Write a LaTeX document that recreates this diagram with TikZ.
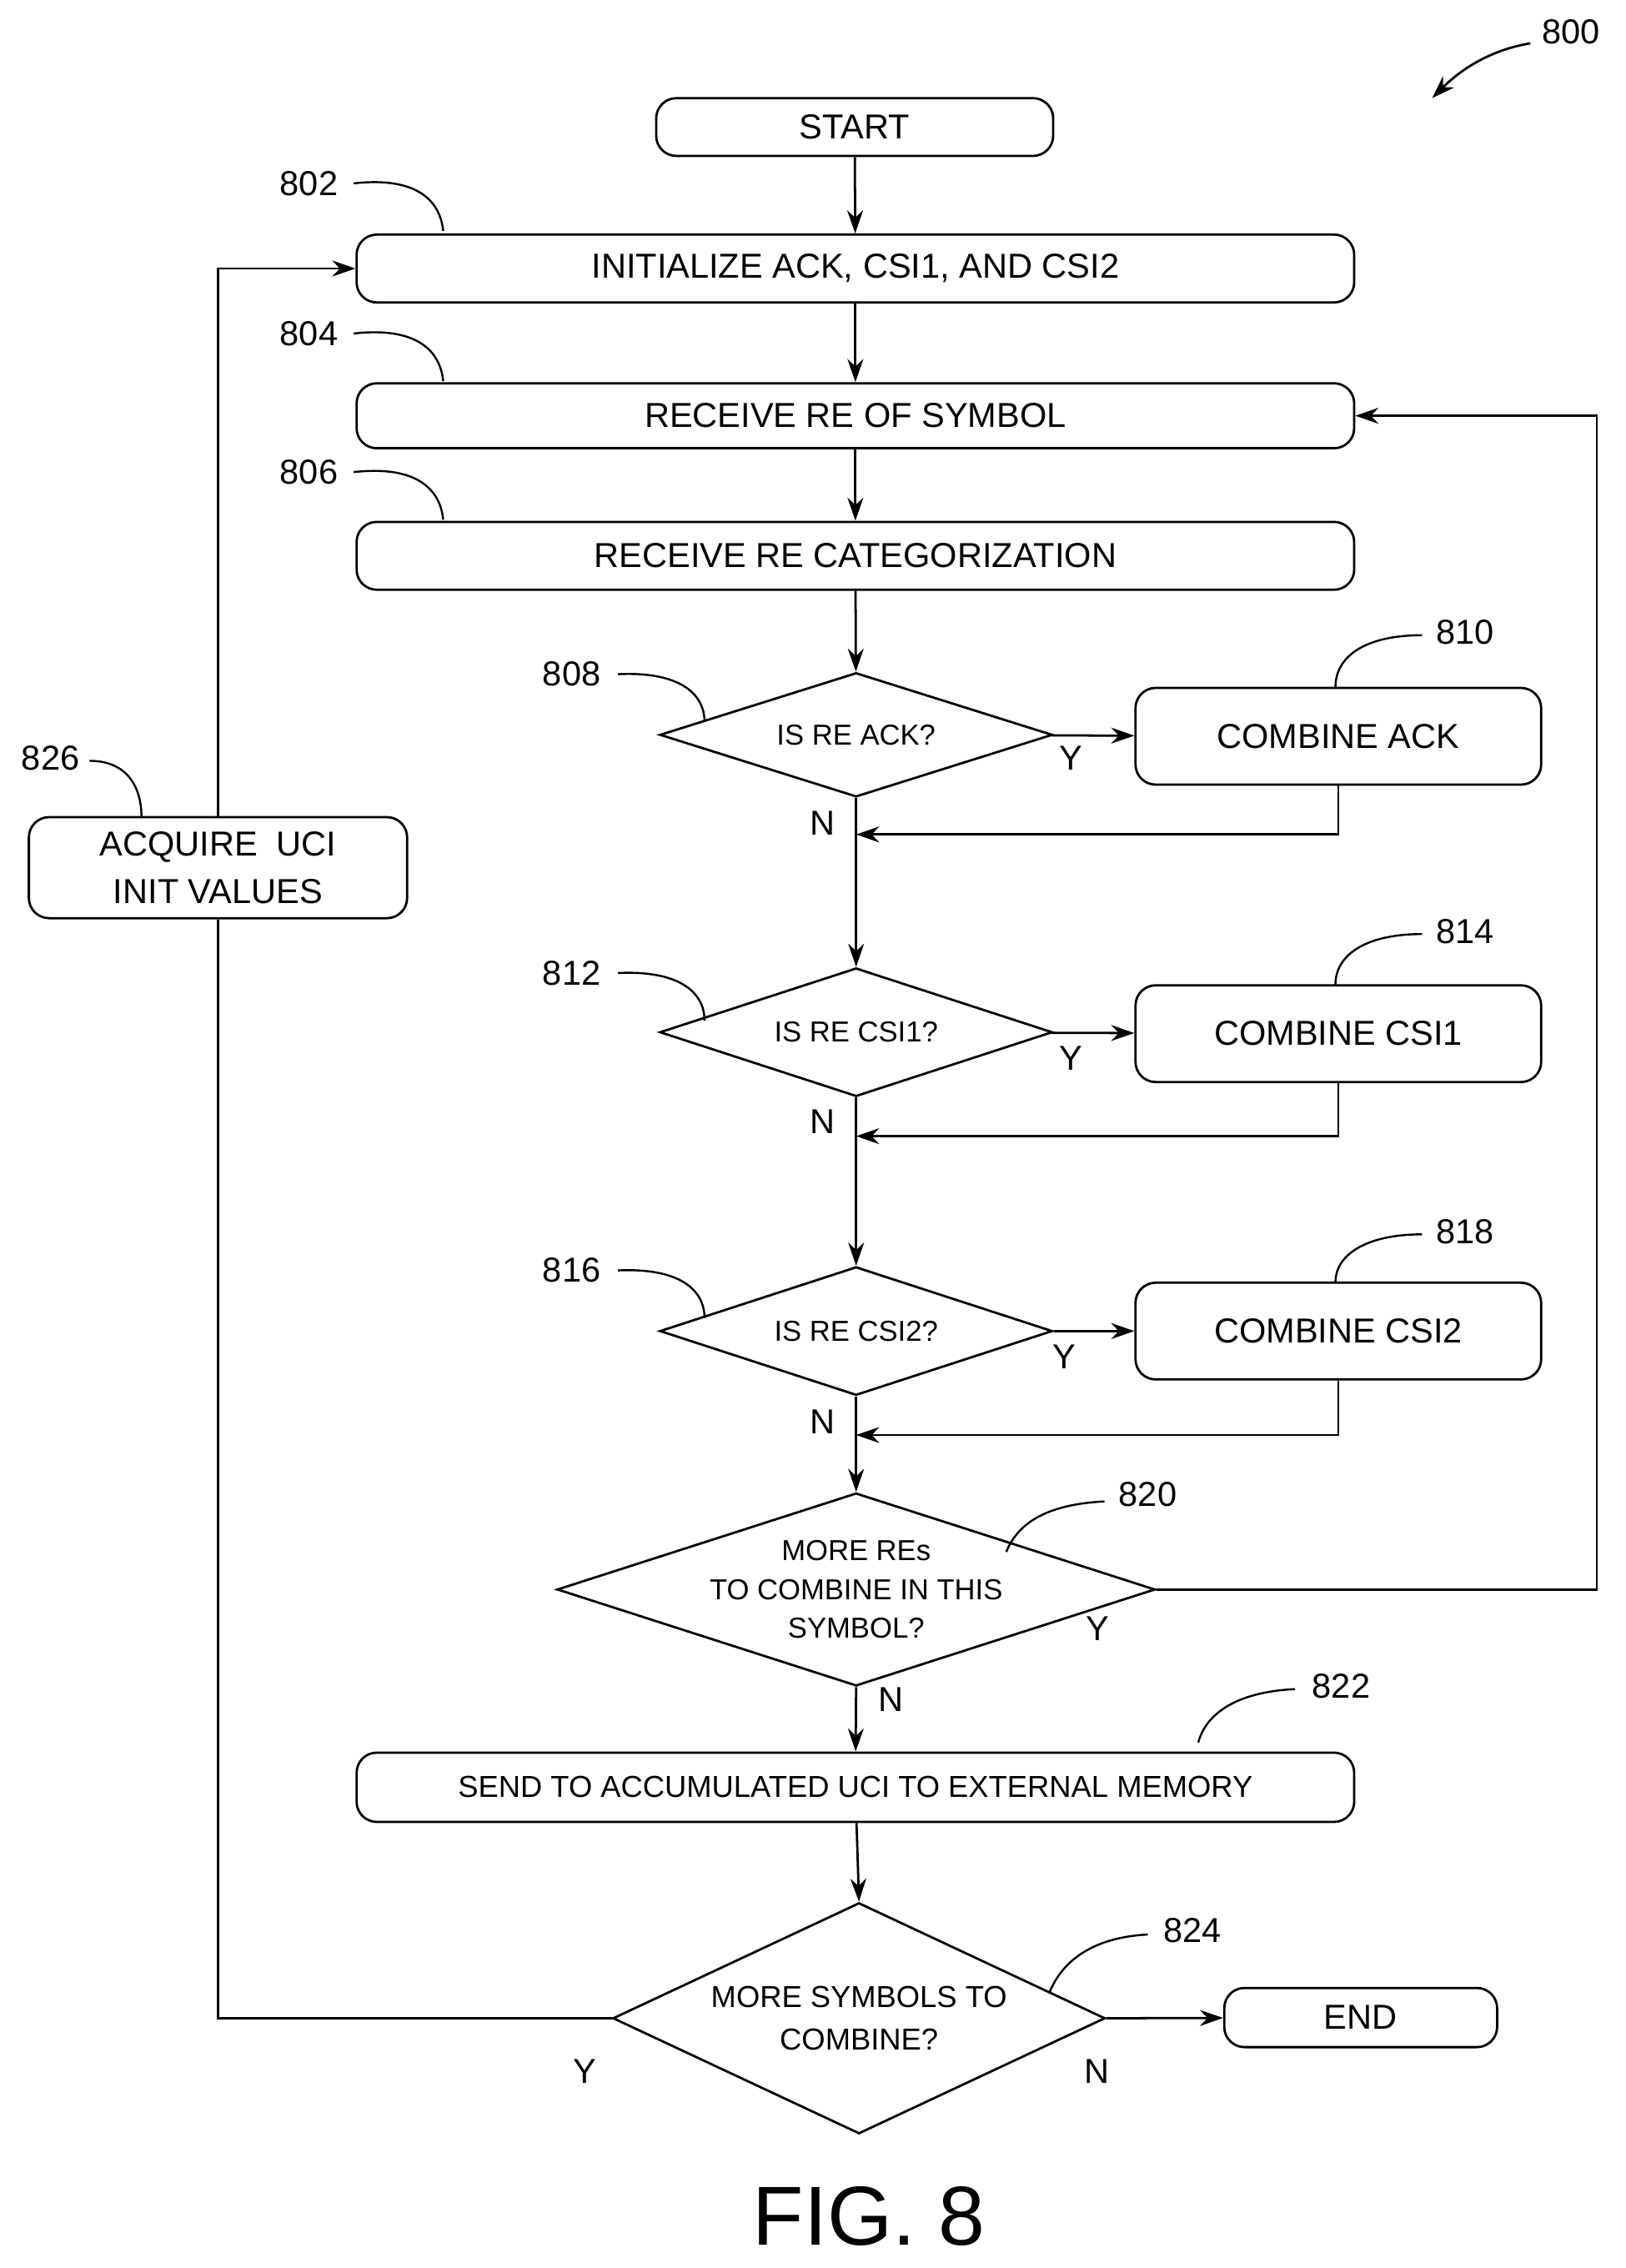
\documentclass[tikz,border=0pt]{standalone}
\usepackage{fontspec}
\setmainfont{Liberation Sans}
\usetikzlibrary{arrows.meta,shapes.geometric}
\begin{document}
\begin{tikzpicture}[x=1pt,y=-1pt,
  every node/.style={font=\fontsize{24}{28}\selectfont},
  box/.style={draw,line width=1.6pt,rounded corners=14pt,inner sep=0pt,align=center},
  dia/.style={draw,line width=1.6pt,diamond,inner sep=0pt,aspect=3.1,align=center,font=\fontsize{20}{27}\selectfont},
  ln/.style={line width=1.6pt},
  arr/.style={line width=1.6pt,-{Stealth[length=16pt,width=11pt]}},
  lab/.style={font=\fontsize{24}{28}\selectfont},
  cv/.style={line width=1.4pt}]
\useasboundingbox (0,0) rectangle (1126,1571);
\node[box,minimum width=275pt,minimum height=40pt] (start) at (592,88) {START};
\node[box,minimum width=691pt,minimum height=47pt] (b802) at (592.5,186) {INITIALIZE ACK, CSI1, AND CSI2};
\node[box,minimum width=691pt,minimum height=45pt] (b804) at (592.5,288) {RECEIVE RE OF SYMBOL};
\node[box,minimum width=691pt,minimum height=47pt] (b806) at (592.5,385) {RECEIVE RE CATEGORIZATION};
\node[dia,minimum width=272pt,minimum height=86pt] (d808) at (593,509) {IS RE ACK?};
\node[box,minimum width=281pt,minimum height=67pt] (b810) at (927,510) {COMBINE ACK};
\node[dia,minimum width=272pt,minimum height=89pt] (d812) at (593,715) {IS RE CSI1?};
\node[box,minimum width=281pt,minimum height=67pt] (b814) at (927,716) {COMBINE CSI1};
\node[dia,minimum width=272pt,minimum height=89pt] (d816) at (593,922) {IS RE CSI2?};
\node[box,minimum width=281pt,minimum height=67pt] (b818) at (927,922) {COMBINE CSI2};
\node[dia,minimum width=338pt,minimum height=123pt] (d820) at (593,1101) {MORE REs\\TO COMBINE IN THIS\\SYMBOL?};
\node[box,minimum width=691pt,minimum height=48pt,font=\fontsize{21}{25}\selectfont] (b822) at (592.5,1238) {SEND TO ACCUMULATED UCI TO EXTERNAL MEMORY};
\node[dia,minimum width=340pt,minimum height=160pt,font=\fontsize{21}{29}\selectfont] (d824) at (595,1398) {MORE SYMBOLS TO\\COMBINE?};
\node[box,minimum width=189pt,minimum height=41pt] (end) at (942.5,1397.5) {END};
\node[box,minimum width=262pt,minimum height=70pt,font=\fontsize{24}{33}\selectfont] (b826) at (151,601) {ACQUIRE\ \ UCI\\INIT VALUES};
% main flow
\draw[arr] (start) -- (b802);
\draw[arr] (b802) -- (b804);
\draw[arr] (b804) -- (b806);
\draw[arr] (b806) -- (d808);
\draw[arr] (d808) -- (b810);
\draw[arr] (d808.south) -- (d812.north);
\draw[arr] (d812) -- (b814);
\draw[arr] (d812.south) -- (d816.north);
\draw[arr] (d816) -- (b818);
\draw[arr] (d816.south) -- (d820.north);
\draw[arr] (d820.south) -- (b822);
\draw[arr] (b822) -- (d824.north);
\draw[arr] (d824.east) -- (end);
\coordinate (m1) at (593,578); \coordinate (m2) at (593,787); \coordinate (m3) at (593,994);
\draw[arr] (b810.south) |- (m1);
\draw[arr] (b814.south) |- (m2);
\draw[arr] (b818.south) |- (m3);
\coordinate (r) at (1106,1101);
\draw[arr] (d820.east) -- (r) |- (b804.east);
\draw[ln] (d824.west) -| (b826.south);
\draw[arr] (b826.north) |- (b802.west);
% Y/N
\node at (742,525) {Y}; \node at (570,570) {N};
\node at (742,733) {Y}; \node at (570,777) {N};
\node at (737,940) {Y}; \node at (570,985) {N};
\node at (760,1128) {Y}; \node at (617,1177) {N};
\node at (405,1435) {Y}; \node at (760,1435) {N};
% ref labels
\node[lab] at (1088,22) {800};
\draw[arr] (1060,30) .. controls (1030,35) and (1010,50) .. (992,68);
\node[lab] (l802) at (214,127) {802}; \draw[cv] (245,127) .. controls (290,122) and (305,140) .. (307,160);
\node[lab] (l804) at (214,231) {804}; \draw[cv] (245,231) .. controls (290,226) and (305,244) .. (307,264);
\node[lab] (l806) at (214,327) {806}; \draw[cv] (245,327) .. controls (290,322) and (305,340) .. (307,360);
\node[lab] at (396,467) {808}; \draw[cv] (428,467) .. controls (470,465) and (488,480) .. (488,500);
\node[lab] at (396,674) {812}; \draw[cv] (428,674) .. controls (470,672) and (488,687) .. (488,707);
\node[lab] at (396,880) {816}; \draw[cv] (428,880) .. controls (470,878) and (488,893) .. (488,913);
\node[lab] at (1015,438) {810}; \draw[cv] (985,440) .. controls (945,440) and (925,455) .. (925,476);
\node[lab] at (1015,645) {814}; \draw[cv] (985,647) .. controls (945,647) and (925,662) .. (925,682);
\node[lab] at (1015,853) {818}; \draw[cv] (985,855) .. controls (945,855) and (925,870) .. (925,888);
\node[lab] at (795,1035) {820}; \draw[cv] (765,1040) .. controls (725,1042) and (705,1055) .. (697,1075);
\node[lab] at (929,1168) {822}; \draw[cv] (897,1170) .. controls (855,1172) and (835,1188) .. (830,1207);
\node[lab] at (826,1337) {824}; \draw[cv] (795,1340) .. controls (755,1342) and (735,1360) .. (727,1380);
\node[lab] at (35,525) {826}; \draw[cv] (62,527) .. controls (88,527) and (98,545) .. (98,566);
\node[font=\fontsize{58}{60}\selectfont] (fig) at (602,1535) {FIG. 8};
\end{tikzpicture}
\end{document}
